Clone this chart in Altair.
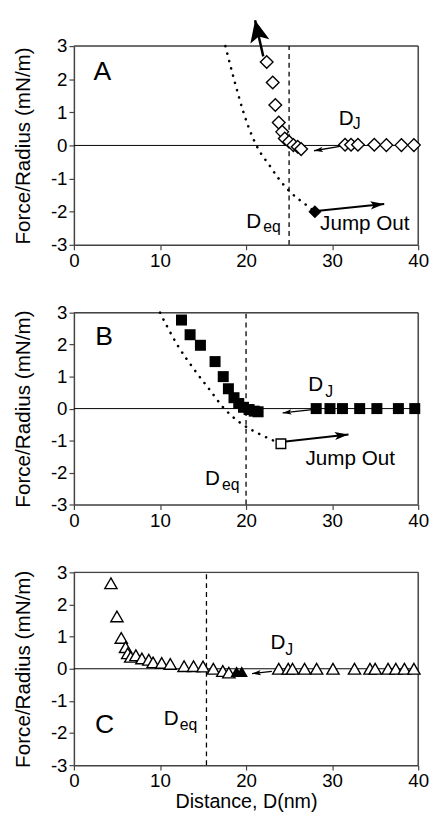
import math
import altair as alt
import pandas as pd

FONT = "Liberation Sans"

# ---------------- Panel A ----------------
a_x = [22.4, 23.1, 23.4, 23.8, 24.2, 24.5, 25.0, 25.5, 26.0, 26.4,
       31.5, 32.2, 33.0, 34.9, 36.3, 38.05, 39.5]
a_y = [2.52, 1.90, 1.22, 0.69, 0.41, 0.21, 0.11, 0.01, -0.04, -0.11,
       0.02, 0.02, 0.02, 0.02, 0.01, 0.01, 0.01]
a_jump_x = [28.0]
a_jump_y = [-2.0]
a_fit_x = [17.6, 18.6, 19.7, 21.2, 22.8, 23.7, 25.0, 27.1, 28.0]
a_fit_y = [3.0, 2.0, 1.0, 0.0, -0.63, -0.97, -1.37, -1.82, -2.0]
a_deq = 25.0
a_big_arrow = [22.0, 2.69, 21.05, 3.78]
a_jump_arrow = [28.45, -1.97, 36.05, -1.77]
a_dj_arrow = [30.9, -0.03, 27.9, -0.16]
a_letter = ["A", 3.3, 2.22]
a_dj = [31.65, 0.81, 32.4, 0.66]
a_deq_lab = [20.9, -2.31, 22.0, -2.46]
a_jump_lab = [33.8, -2.38]

# ---------------- Panel B ----------------
b_x = [12.5, 13.5, 14.7, 16.4, 17.35, 17.95, 18.6, 19.15, 19.7, 20.35, 20.95, 21.4,
       28.15, 29.75, 31.2, 33.2, 35.2, 37.7, 39.6]
b_y = [2.77, 2.31, 1.98, 1.47, 1.0, 0.62, 0.34, 0.16, 0.04, -0.03, -0.08, -0.10,
       0.0, 0.0, 0.0, 0.0, 0.0, 0.0, 0.0]
b_jump_x = [24.05]
b_jump_y = [-1.1]
b_fit_x = [10.0, 12.0, 13.9, 15.8, 17.4, 19.3, 21.6, 24.05]
b_fit_y = [3.0, 2.0, 1.25, 0.58, 0.02, -0.44, -0.80, -1.1]
b_deq = 20.0
b_jump_arrow = [24.6, -1.03, 31.9, -0.81]
b_dj_arrow = [27.7, -0.03, 24.25, -0.135]
b_letter = ["B", 3.5, 2.24]
b_dj = [28.1, 0.72, 29.2, 0.52]
b_deq_lab = [16.1, -2.22, 17.2, -2.4]
b_jump_lab = [32.1, -1.58]

# ---------------- Panel C ----------------
c_x = [4.3, 5.0, 5.5, 6.0, 6.25, 6.6, 7.2, 7.9, 8.7, 9.2, 10.2, 11.2, 12.8, 13.9,
       15.0, 16.2, 17.3, 18.0, 23.8, 24.9, 25.4, 26.8, 28.2, 30.1, 32.6, 34.4,
       35.0, 36.5, 37.4, 38.4, 39.5]
c_y = [2.66, 1.63, 0.96, 0.67, 0.48, 0.37, 0.42, 0.32, 0.28, 0.20, 0.18, 0.15, 0.08, 0.08,
       0.07, 0.0, -0.07, -0.12, 0.0, 0.0, 0.0, 0.0, 0.0, 0.0, 0.0, 0.0,
       0.0, 0.0, 0.0, 0.0, 0.0]
c_fill_x = [18.9, 19.5]
c_fill_y = [-0.09, -0.09]
c_deq = 15.4
c_dj_arrow = [23.0, -0.08, 20.7, -0.15]
c_letter = ["C", 3.55, -1.74]
c_dj = [23.7, 0.79, 24.55, 0.58]
c_deq_lab = [11.3, -1.56, 12.3, -1.75]

x_ticks = [0, 10, 20, 30, 40]
y_ticks = [-3, -2, -1, 0, 1, 2, 3]

PLOT_W = 350
FRAME = "#444444"

# arrowheads pointing up, centred on the symbol origin (tip at 0,-1)
HEAD_WIDE = "M0,-1L-0.9,1L0,0.55L0.9,1Z"
HEAD_NARROW = "M0,-1L-0.6,1L0,0.55L0.6,1Z"

XSC = alt.Scale(domain=[0, 40], nice=False, zero=False)
YSC = alt.Scale(domain=[-3, 3], nice=False, zero=False)


def axes(xtitle):
    xax = alt.Axis(values=x_ticks, tickSize=5, labelFontSize=19, labelFont=FONT,
                   labelColor="black", domainColor=FRAME, tickColor=FRAME,
                   domainWidth=1.5, tickWidth=1.2, grid=False, labelPadding=2,
                   title=xtitle if xtitle else None, titleFontSize=20, titleFont=FONT,
                   titleFontWeight="normal", titleColor="black", titlePadding=1,
                   labelFlush=False, labelOverlap=False)
    yax = alt.Axis(values=y_ticks, tickSize=5, labelFontSize=19, labelFont=FONT,
                   labelColor="black", domainColor=FRAME, tickColor=FRAME,
                   domainWidth=1.5, tickWidth=1.2, grid=False, labelPadding=2,
                   title="Force/Radius (mN/m)", titleFontSize=21, titleFont=FONT,
                   titleFontWeight="normal", titleColor="black", titlePadding=17,
                   labelExpr="'' + datum.value", labelOverlap=False, tickCount=7)
    return xax, yax


def enc(xax, yax, xf="x", yf="y"):
    return dict(x=alt.X(f"{xf}:Q", scale=XSC, axis=xax),
                y=alt.Y(f"{yf}:Q", scale=YSC, axis=yax))


def arrow(arr, h, width, head_len, head_shape, xax, yax):
    x, y, x2, y2 = arr
    ky = h / 6.0
    kx = PLOT_W / 40.0
    dxp = (x2 - x) * kx
    dyp = (y2 - y) * ky
    ln = math.hypot(dxp, dyp)
    ux, uy = dxp / ln, dyp / ln
    ang = math.degrees(math.atan2(ux, uy)) % 360
    cx = x2 - (head_len / 2) * ux / kx
    cy = y2 - (head_len / 2) * uy / ky
    ldf = pd.DataFrame({"x": [x], "y": [y], "x2": [x2], "y2": [y2]})
    hdf = pd.DataFrame({"x": [cx], "y": [cy], "ang": [ang]})
    line = alt.Chart(ldf).mark_rule(color="black", strokeWidth=width).encode(
        x2="x2:Q", y2="y2:Q", **enc(xax, yax))
    head = alt.Chart(hdf).mark_point(shape=head_shape, filled=True, color="black",
                                     opacity=1, size=head_len ** 2, strokeWidth=0).encode(
        angle=alt.Angle("ang:Q", scale=None), **enc(xax, yax))
    return [line, head]


def text(x, y, s, size, xax, yax, align="center"):
    df = pd.DataFrame({"x": [x], "y": [y], "t": [s]})
    return alt.Chart(df).mark_text(fontSize=size, font=FONT, color="black",
                                   align=align, baseline="middle").encode(
        text="t:N", **enc(xax, yax))


def panel(h, xs, ys, shape, open_marks, special, fit, deq, arrows, letter, dj, deqlab,
          jumplab, xtitle):
    xax, yax = axes(xtitle)

    zero = alt.Chart(pd.DataFrame({"x": [0], "x2": [40], "y": [0]})).mark_rule(
        color="black", strokeWidth=1).encode(x2="x2:Q", **enc(xax, yax))
    top = alt.Chart(pd.DataFrame({"x": [0], "x2": [40], "y": [3]})).mark_rule(
        color=FRAME, strokeWidth=1.5).encode(x2="x2:Q", **enc(xax, yax))
    right = alt.Chart(pd.DataFrame({"x": [40], "y": [-3], "y2": [3]})).mark_rule(
        color=FRAME, strokeWidth=1.5).encode(y2="y2:Q", **enc(xax, yax))
    dq = alt.Chart(pd.DataFrame({"x": [deq], "y": [-3], "y2": [3]})).mark_rule(
        color="black", strokeWidth=1.3, strokeDash=[5, 4]).encode(y2="y2:Q", **enc(xax, yax))
    layers = [zero, top, right, dq]

    if fit is not None:
        fdf = pd.DataFrame({"x": fit[0], "y": fit[1]})
        layers.append(alt.Chart(fdf).mark_line(
            color="black", strokeWidth=2.6, strokeDash=[0.1, 7.6], strokeCap="round",
            interpolate="monotone").encode(**enc(xax, yax)))

    for a in arrows:
        layers += arrow(*a, xax, yax)

    mdf = pd.DataFrame({"x": xs, "y": ys})
    if open_marks:
        mk = alt.Chart(mdf).mark_point(shape=shape[0], size=shape[1], filled=True,
                                       fill="white", stroke="black", strokeWidth=1.4,
                                       opacity=1)
    else:
        mk = alt.Chart(mdf).mark_point(shape=shape[0], size=shape[1], filled=True,
                                       color="black", opacity=1, strokeWidth=0)
    layers.append(mk.encode(**enc(xax, yax)))

    sdf = pd.DataFrame({"x": special[0], "y": special[1]})
    if special[2]:
        sp = alt.Chart(sdf).mark_point(shape=special[3], size=special[4], filled=True,
                                       fill="white", stroke="black", strokeWidth=1.4,
                                       opacity=1)
    else:
        sp = alt.Chart(sdf).mark_point(shape=special[3], size=special[4], filled=True,
                                       color="black", opacity=1, strokeWidth=0)
    layers.append(sp.encode(**enc(xax, yax)))

    layers.append(text(letter[1], letter[2], letter[0], 27, xax, yax))
    layers.append(text(dj[0], dj[1], "D", 21, xax, yax))
    layers.append(text(dj[2], dj[3], "J", 16, xax, yax, align="left"))
    layers.append(text(deqlab[0], deqlab[1], "D", 21, xax, yax))
    layers.append(text(deqlab[2], deqlab[3], "eq", 16, xax, yax, align="left"))
    if jumplab is not None:
        layers.append(text(jumplab[0], jumplab[1], "Jump Out", 21, xax, yax))

    return alt.layer(*layers).properties(width=PLOT_W, height=h)


pA = panel(202, a_x, a_y, ("diamond", 165), True,
           (a_jump_x, a_jump_y, False, "diamond", 175),
           (a_fit_x, a_fit_y), a_deq,
           [(a_big_arrow, 202, 2.5, 22, HEAD_WIDE),
            (a_jump_arrow, 202, 2.0, 14, HEAD_NARROW),
            (a_dj_arrow, 202, 1.3, 9, HEAD_NARROW)],
           a_letter, a_dj, a_deq_lab, a_jump_lab, None)

pB = panel(195, b_x, b_y, ("square", 125), False,
           (b_jump_x, b_jump_y, True, "square", 95),
           (b_fit_x, b_fit_y), b_deq,
           [(b_jump_arrow, 195, 2.0, 14, HEAD_NARROW),
            (b_dj_arrow, 195, 1.3, 9, HEAD_NARROW)],
           b_letter, b_dj, b_deq_lab, b_jump_lab, None)

pC = panel(196, c_x, c_y, ("triangle-up", 155), True,
           (c_fill_x, c_fill_y, False, "triangle-up", 155),
           None, c_deq,
           [(c_dj_arrow, 196, 1.3, 9, HEAD_NARROW)],
           c_letter, c_dj, c_deq_lab, None, "Distance, D(nm)")

chart = alt.vconcat(pA, pB, pC, spacing=69, bounds="flush").properties(
    padding={"left": 4, "top": 3, "right": 0, "bottom": 0}
).configure_view(stroke=FRAME, strokeWidth=1.5).configure_axis(
    labelOverlap=False).configure(font=FONT, background="white")

chart.save("out.html", embed_options={"renderer": "svg", "actions": False})
